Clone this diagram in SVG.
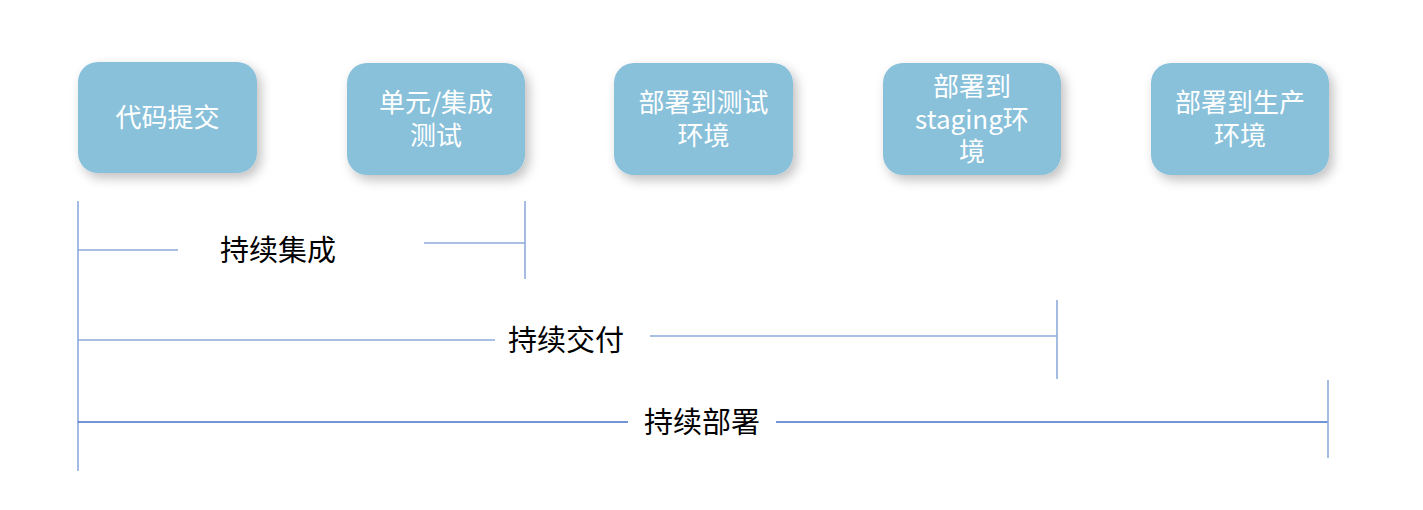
<svg xmlns="http://www.w3.org/2000/svg" width="1423" height="510" viewBox="0 0 1423 510">
  <style>
    .box { fill: #89c1da; filter: url(#shadow); }
    .lbl { fill: #ffffff; font-family: "Microsoft YaHei", "Noto Sans CJK SC", sans-serif; font-size: 26px; text-anchor: middle; }
    .cap { fill: #000000; font-family: "Microsoft YaHei", "Noto Sans CJK SC", sans-serif; font-size: 29px; text-anchor: middle; }
    .ln { stroke: #8eaadb; stroke-width: 1.6; fill: none; }
    .ln2 { stroke: #4472c4; stroke-width: 1.4; fill: none; }
  </style>
  <defs>
    <filter id="shadow" x="-20%" y="-20%" width="150%" height="160%">
      <feGaussianBlur in="SourceAlpha" stdDeviation="6"/>
      <feOffset dx="4" dy="5" result="b"/>
      <feComponentTransfer><feFuncA type="linear" slope="0.25"/></feComponentTransfer>
      <feMerge><feMergeNode/><feMergeNode in="SourceGraphic"/></feMerge>
    </filter>
  </defs>
  <rect width="1423" height="510" fill="#ffffff"/>

  <g id="commit">
    <rect class="box" x="78" y="62" width="179" height="111" rx="20"/>
    <text class="lbl" x="167.5" y="127">代码提交</text>
  </g>
  <g id="test">
    <rect class="box" x="347" y="63" width="178" height="112" rx="20"/>
    <text class="lbl" x="436" y="112">单元/集成<tspan x="436" dy="33">测试</tspan></text>
  </g>
  <g id="deploy-test">
    <rect class="box" x="614" y="63" width="179" height="112" rx="20"/>
    <text class="lbl" x="703.5" y="112">部署到测试<tspan x="703.5" dy="33">环境</tspan></text>
  </g>
  <g id="deploy-staging">
    <rect class="box" x="883" y="63" width="178" height="112" rx="20"/>
    <text class="lbl" x="972" y="96">部署到<tspan x="972" dy="33">staging环</tspan><tspan x="972" dy="32">境</tspan></text>
  </g>
  <g id="deploy-prod">
    <rect class="box" x="1151" y="63" width="178" height="112" rx="20"/>
    <text class="lbl" x="1240" y="112">部署到生产<tspan x="1240" dy="33">环境</tspan></text>
  </g>

  <g id="connectors">
    <line class="ln" x1="78" y1="201" x2="78" y2="471"/>
    <!-- continuous integration span -->
    <line class="ln" x1="78" y1="250" x2="178" y2="250"/>
    <line class="ln" x1="424" y1="243" x2="525" y2="243"/>
    <line class="ln" x1="525" y1="201" x2="525" y2="279"/>
    <!-- continuous delivery span -->
    <line class="ln" x1="78" y1="340" x2="495" y2="340"/>
    <line class="ln" x1="650" y1="336" x2="1057" y2="336"/>
    <line class="ln" x1="1057" y1="300" x2="1057" y2="379"/>
    <!-- continuous deployment span -->
    <line class="ln2" x1="78" y1="422" x2="628" y2="422"/>
    <line class="ln2" x1="776" y1="422" x2="1328" y2="422"/>
    <line class="ln" x1="1328" y1="380" x2="1328" y2="458"/>
  </g>

  <g id="captions">
    <text class="cap" x="278" y="261">持续集成</text>
    <text class="cap" x="566" y="351">持续交付</text>
    <text class="cap" x="702" y="433">持续部署</text>
  </g>
</svg>
